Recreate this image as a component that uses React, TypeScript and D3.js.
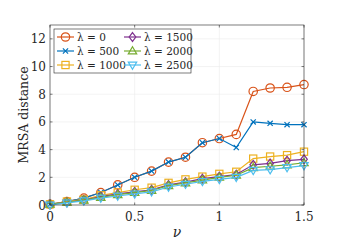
import { useEffect, useRef } from 'react';
import * as d3 from 'd3';

const nu = [0, 0.1, 0.2, 0.3, 0.4, 0.5, 0.6, 0.7, 0.8, 0.9, 1.0, 1.1, 1.2, 1.3, 1.4, 1.5];
const lam0 = [0.05, 0.25, 0.5, 0.9, 1.45, 2.0, 2.45, 3.1, 3.45, 4.5, 4.8, 5.1, 8.2, 8.45, 8.5, 8.7];
const lam500 = [0.05, 0.25, 0.5, 0.9, 1.45, 2.0, 2.45, 3.1, 3.45, 4.5, 4.8, 4.15, 6.0, 5.9, 5.8, 5.8];
const lam1000 = [0.05, 0.25, 0.4, 0.7, 0.9, 1.1, 1.25, 1.6, 1.85, 2.05, 2.25, 2.4, 3.35, 3.5, 3.6, 3.85];
const lam1500 = [0.05, 0.2, 0.35, 0.6, 0.8, 0.95, 1.1, 1.45, 1.65, 1.9, 2.05, 2.2, 2.9, 3.0, 3.2, 3.3];
const lam2000 = [0.05, 0.2, 0.35, 0.55, 0.75, 0.9, 1.05, 1.4, 1.6, 1.8, 2.0, 2.15, 2.7, 2.8, 2.9, 3.05];
const lam2500 = [0.0, 0.15, 0.3, 0.5, 0.65, 0.8, 0.95, 1.3, 1.5, 1.7, 1.85, 2.0, 2.5, 2.55, 2.7, 2.85];
const xTicks = [0, 0.5, 1, 1.5];
const yTicks = [0, 2, 4, 6, 8, 10, 12];

const series = [
    { label: '0', values: lam0, color: '#D95319', marker: 'circle' },
    { label: '500', values: lam500, color: '#0072BD', marker: 'x' },
    { label: '1000', values: lam1000, color: '#EDB120', marker: 'square' },
    { label: '1500', values: lam1500, color: '#7E2F8E', marker: 'diamond' },
    { label: '2000', values: lam2000, color: '#77AC30', marker: 'tri' },
    { label: '2500', values: lam2500, color: '#4DBEEE', marker: 'trid' },
];

const font = 'DejaVu Serif, serif';

function drawMarker(g, type, x, y, color) {
    if (type === 'circle') {
        g.append('circle').attr('cx', x).attr('cy', y).attr('r', 4.2)
            .attr('fill', 'none').attr('stroke', color).attr('stroke-width', 1.2);
    } else if (type === 'x') {
        const s = 2.6;
        g.append('path').attr('d', `M${x - s},${y - s}L${x + s},${y + s}M${x - s},${y + s}L${x + s},${y - s}`)
            .attr('stroke', color).attr('stroke-width', 1.2);
    } else if (type === 'square') {
        const s = 3.6;
        g.append('rect').attr('x', x - s).attr('y', y - s).attr('width', 2 * s).attr('height', 2 * s)
            .attr('fill', 'none').attr('stroke', color).attr('stroke-width', 1.2);
    } else if (type === 'diamond') {
        const s = 4.4;
        g.append('path').attr('d', `M${x},${y - s}L${x + s * 0.75},${y}L${x},${y + s}L${x - s * 0.75},${y}Z`)
            .attr('fill', 'none').attr('stroke', color).attr('stroke-width', 1.2);
    } else if (type === 'tri') {
        const s = 4.2;
        g.append('path').attr('d', `M${x},${y - s}L${x + s},${y + s * 0.7}L${x - s},${y + s * 0.7}Z`)
            .attr('fill', 'none').attr('stroke', color).attr('stroke-width', 1.2);
    } else {
        const s = 4.2;
        g.append('path').attr('d', `M${x},${y + s}L${x + s},${y - s * 0.7}L${x - s},${y - s * 0.7}Z`)
            .attr('fill', 'none').attr('stroke', color).attr('stroke-width', 1.2);
    }
}

const App = () => {
    const svgRef = useRef(null);
    const width = 343;
    const height = 250;
    const margin = { top: 25, right: 39, bottom: 45, left: 50 };

    useEffect(() => {
        const svg = d3.select(svgRef.current);
        svg.selectAll('*').remove();

        const x = d3.scaleLinear().domain([0, 1.5]).range([margin.left, width - margin.right]);
        const y = d3.scaleLinear().domain([0, 13]).range([height - margin.bottom, margin.top]);
        const [x0, x1] = x.range();
        const [y0, y1] = y.range();

        svg.append('rect').attr('x', x0).attr('y', y1).attr('width', x1 - x0).attr('height', y0 - y1).attr('fill', 'white');

        // grid
        svg.append('g').selectAll('line').data(xTicks).join('line')
            .attr('x1', d => x(d)).attr('x2', d => x(d)).attr('y1', y0).attr('y2', y1)
            .attr('stroke', '#ebebeb').attr('stroke-width', 0.6);
        svg.append('g').selectAll('line').data(yTicks).join('line')
            .attr('x1', x0).attr('x2', x1).attr('y1', d => y(d)).attr('y2', d => y(d))
            .attr('stroke', '#ebebeb').attr('stroke-width', 0.6);

        // lines and markers
        series.forEach(s => {
            const pts = nu.map((v, i) => [x(v), y(s.values[i])]);
            const g = svg.append('g');
            g.append('path').attr('d', d3.line()(pts)).attr('fill', 'none')
                .attr('stroke', s.color).attr('stroke-width', 1.2);
            pts.forEach(p => drawMarker(g, s.marker, p[0], p[1], s.color));
        });

        // axes box
        const ax = svg.append('g');
        ax.append('rect').attr('x', x0).attr('y', y1).attr('width', x1 - x0).attr('height', y0 - y1)
            .attr('fill', 'none').attr('stroke', '#262626').attr('stroke-width', 0.6);
        xTicks.forEach(t => {
            ax.append('line').attr('x1', x(t)).attr('x2', x(t)).attr('y1', y0).attr('y2', y0 - 2.5).attr('stroke', '#262626').attr('stroke-width', 0.6);
            ax.append('line').attr('x1', x(t)).attr('x2', x(t)).attr('y1', y1).attr('y2', y1 + 2.5).attr('stroke', '#262626').attr('stroke-width', 0.6);
            ax.append('text').attr('x', x(t)).attr('y', y0 + 16).attr('text-anchor', 'middle')
                .attr('font-family', font).attr('font-size', 12).attr('fill', '#262626').text(String(t));
        });
        yTicks.forEach(t => {
            ax.append('line').attr('x1', x0).attr('x2', x0 + 2.5).attr('y1', y(t)).attr('y2', y(t)).attr('stroke', '#262626').attr('stroke-width', 0.6);
            ax.append('line').attr('x1', x1).attr('x2', x1 - 2.5).attr('y1', y(t)).attr('y2', y(t)).attr('stroke', '#262626').attr('stroke-width', 0.6);
            ax.append('text').attr('x', x0 - 4).attr('y', y(t) + 4.5).attr('text-anchor', 'end')
                .attr('font-family', font).attr('font-size', 12).attr('fill', '#262626').text(String(t));
        });

        // axis labels
        svg.append('text').attr('x', (x0 + x1) / 2).attr('y', 237).attr('text-anchor', 'middle')
            .attr('font-family', font).attr('font-style', 'italic').attr('font-size', 14).attr('fill', '#262626').text('ν');
        svg.append('text').attr('transform', `translate(28,${(y0 + y1) / 2}) rotate(-90)`).attr('text-anchor', 'middle')
            .attr('font-family', font).attr('font-size', 12.5).attr('fill', '#262626').text('MRSA distance');

        // legend
        const lg = svg.append('g');
        lg.append('rect').attr('x', 54).attr('y', 29).attr('width', 137).attr('height', 44)
            .attr('fill', 'white').attr('stroke', '#262626').attr('stroke-width', 0.6);
        series.forEach((s, i) => {
            const col = Math.floor(i / 3);
            const row = i % 3;
            const lx = col === 0 ? 57 : 124;
            const ly = 37 + row * 14;
            lg.append('line').attr('x1', lx).attr('x2', lx + 17).attr('y1', ly).attr('y2', ly)
                .attr('stroke', s.color).attr('stroke-width', 1.2);
            drawMarker(lg, s.marker, lx + 8.5, ly, s.color);
            lg.append('text').attr('x', lx + 20).attr('y', ly + 4)
                .attr('font-family', font).attr('font-size', 10.5).attr('fill', '#262626')
                .text(`λ = ${s.label}`);
        });
    }, []);

    return (
        <svg ref={svgRef} width={width} height={height} style={{ position: 'absolute', left: 0, top: 0 }}></svg>
    );
};

export default App;
